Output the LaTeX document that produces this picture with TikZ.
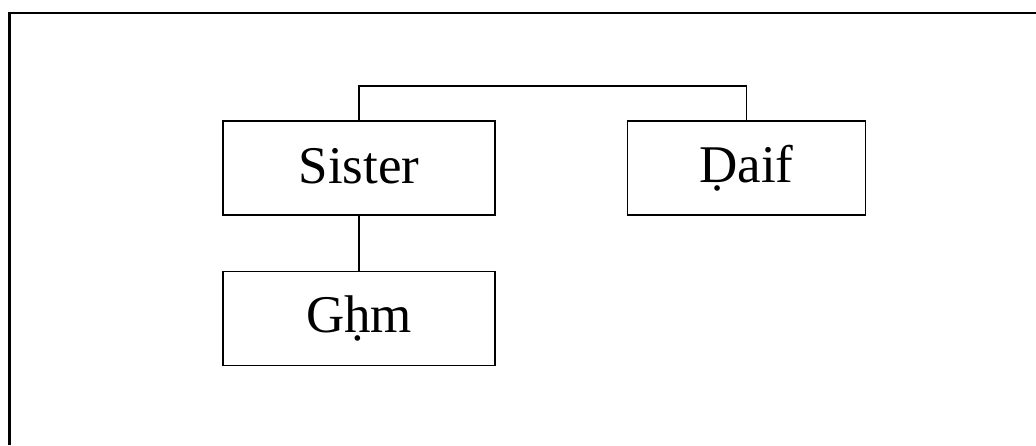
\documentclass[tikz,border=0pt]{standalone}
\usepackage{fontspec}
\setmainfont{Liberation Serif}
\begin{document}
\begin{tikzpicture}[x=1pt,y=-1pt,
  box/.style={draw, line width=1.4pt, minimum width=272pt, minimum height=94pt, inner sep=0pt, font=\fontsize{53}{60}\selectfont},
  link/.style={line width=1.6pt}]
\useasboundingbox (0,0) rectangle (1036,445);
% open frame: top and left edges only
\draw[line width=2.6pt] (9.3,445) -- (9.3,13) -- (1036,13);
% boxes
\node[box] (sister) at (359,168) {\raisebox{4pt}{Sister}};
\node[box, minimum width=238pt] (daif) at (746.5,168) {\raisebox{4pt}{Ḍaif}};
\node[box] (ghm) at (359,318.5) {\raisebox{4pt}{Gḥm}};
% connectors
\coordinate (top) at (0,86);
\draw[link] (sister.north) -- (sister.north |- top) -- (daif.north |- top) -- (daif.north);
\draw[link] (sister.south) -- (ghm.north);
\end{tikzpicture}
\end{document}
